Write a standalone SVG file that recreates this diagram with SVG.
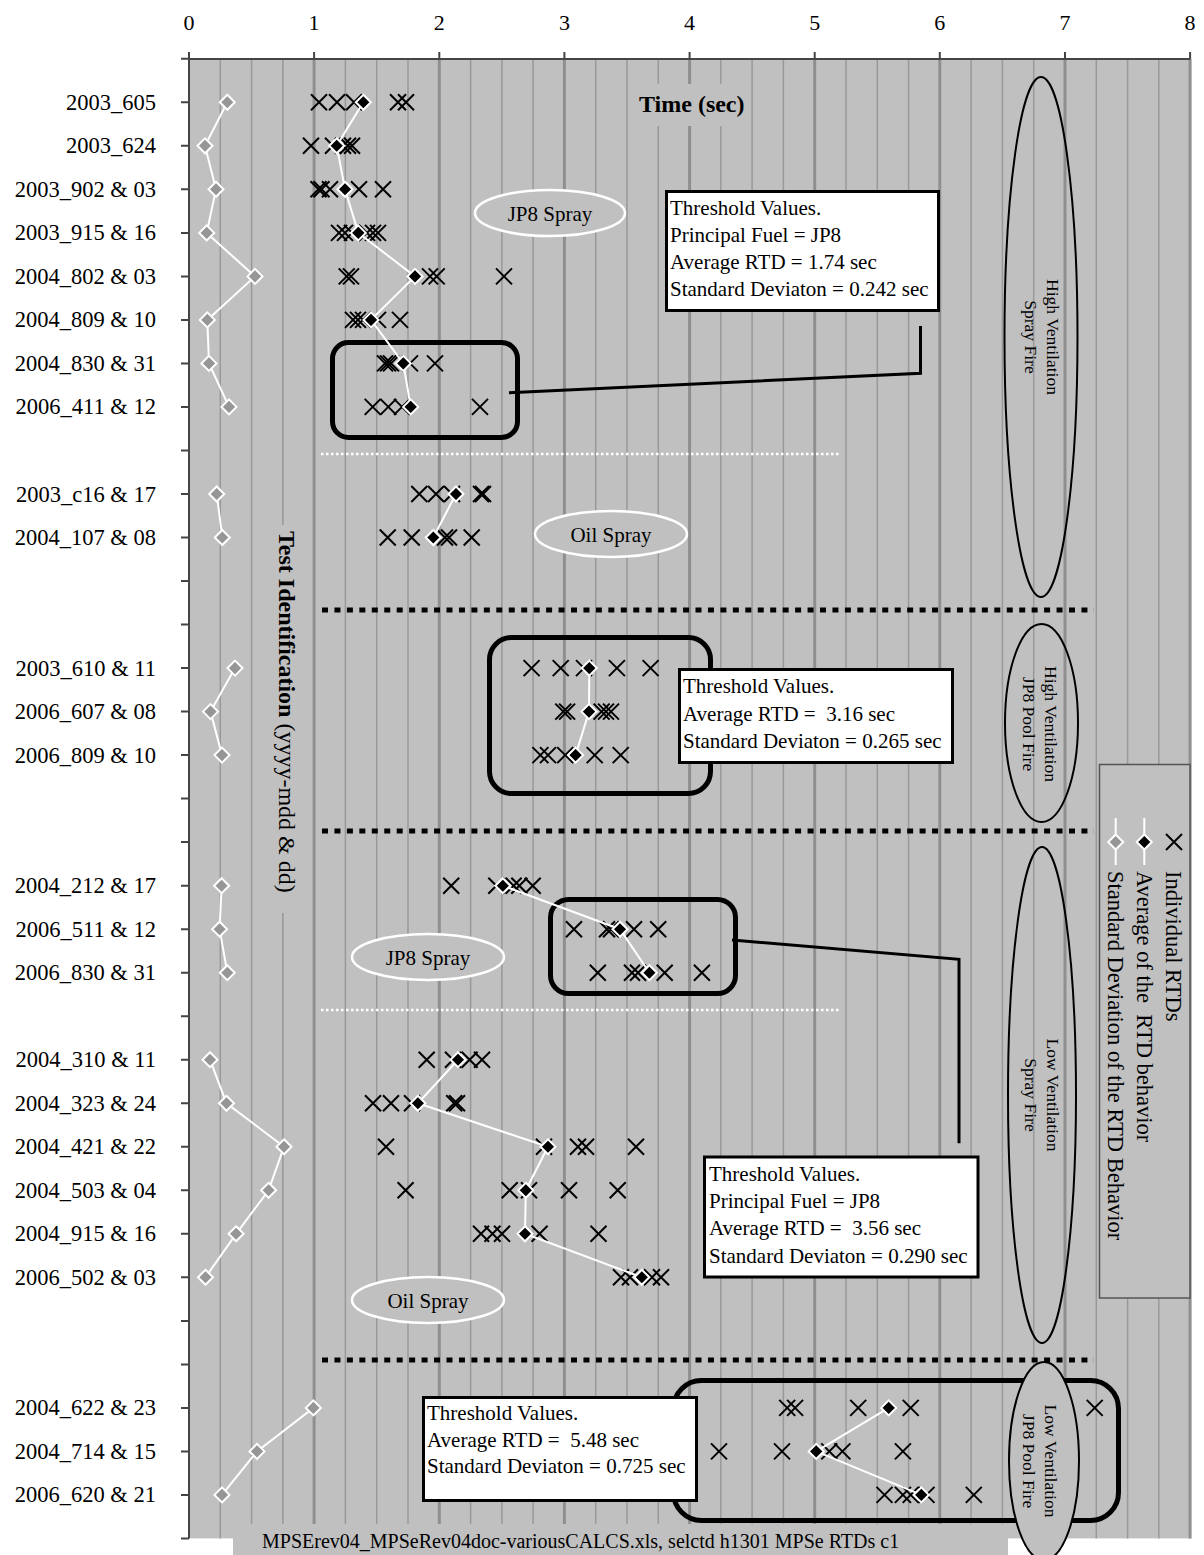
<svg xmlns="http://www.w3.org/2000/svg" width="1204" height="1555" viewBox="0 0 1204 1555">
<style>
text{font-family:"Liberation Serif","Times New Roman",serif;fill:#000}
.ylab{font-size:22.5px;text-anchor:end}
.xlab{font-size:22px;text-anchor:middle}
.thr{font-size:21px;white-space:pre}
.tag{font-size:21px;text-anchor:middle}
.cat{font-size:17.5px;text-anchor:middle}
.leg{font-size:22.5px;white-space:pre}
.grid{stroke:#999;stroke-width:1.5;fill:none}
.gridi{stroke:#8f8f8f;stroke-width:3;fill:none}
.axis{stroke:#444;stroke-width:2;fill:none}
.callout{fill:none;stroke:#000;stroke-width:5}
.tbox{fill:#fff;stroke:#000;stroke-width:3}
.conn{fill:none;stroke:#000;stroke-width:3}
.wdot{stroke:#fff;stroke-width:2.5;stroke-dasharray:2.5 2.5;fill:none}
.bdot{stroke:#000;stroke-width:5;stroke-dasharray:6 6.45;fill:none}
.tagell{fill:#c0c0c0;stroke:#fff;stroke-width:2.5}
.catell{fill:none;stroke:#000;stroke-width:2}
.wline{fill:none;stroke:#fff;stroke-width:2}
</style>
<defs>
<path id="xm" d="M-8,-8L8,8M-8,8L8,-8" stroke="#000" stroke-width="2" fill="none"/>
<path id="da" d="M0,-7.5L7.5,0L0,7.5L-7.5,0Z" fill="#000" stroke="#fff" stroke-width="2"/>
<path id="ds" d="M0,-7.5L7.5,0L0,7.5L-7.5,0Z" fill="#969696" stroke="#fff" stroke-width="2"/>
</defs>
<rect x="0" y="0" width="1204" height="1555" fill="#fff"/>
<g id="plot-area">
<rect x="189" y="59" width="1002" height="1479.4" fill="#c0c0c0"/>
<path class="grid" d="M220.3 59V1538.4M251.6 59V1538.4M282.9 59V1538.4M345.4 59V1538.4M376.7 59V1538.4M408 59V1538.4M470.6 59V1538.4M501.9 59V1538.4M533.1 59V1538.4M595.7 59V1538.4M627 59V1538.4M658.3 59V1538.4M720.8 59V1538.4M752.1 59V1538.4M783.4 59V1538.4M846 59V1538.4M877.3 59V1538.4M908.6 59V1538.4M971.1 59V1538.4M1002.4 59V1538.4M1033.7 59V1538.4M1096.3 59V1538.4M1127.6 59V1538.4M1158.8 59V1538.4"/>
<path class="gridi" d="M314.1 59V1538.4M439.3 59V1538.4M564.4 59V1538.4M689.6 59V1538.4M814.7 59V1538.4M939.8 59V1538.4M1065 59V1538.4M1190.1 59V1538.4"/>
</g>
<g id="axis-titles">
<rect x="636" y="84" width="112" height="42" fill="#c0c0c0"/>
<text x="639" y="112" style="font-size:24px;font-weight:bold">Time (sec)</text>
<rect x="272" y="525" width="30" height="388" fill="#c0c0c0"/>
<text transform="translate(278.5,531) rotate(90)" style="font-size:24px"><tspan font-weight="bold">Test Identification</tspan> (yyyy-mdd &amp; dd)</text>
</g>
<g id="axes">
<path class="axis" d="M189 59V1538.4M189 59H1190.1"/>
<path class="axis" d="M189 52V59M314.1 52V59M439.3 52V59M564.4 52V59M689.6 52V59M814.7 52V59M939.8 52V59M1065 52V59M1190.1 52V59"/>
<path class="axis" d="M181 58.8H189M181 102.3H189M181 145.8H189M181 189.3H189M181 232.9H189M181 276.4H189M181 319.9H189M181 363.4H189M181 406.9H189M181 450.5H189M181 494H189M181 537.5H189M181 581H189M181 624.5H189M181 668.1H189M181 711.6H189M181 755.1H189M181 798.6H189M181 842.1H189M181 885.7H189M181 929.2H189M181 972.7H189M181 1016.2H189M181 1059.7H189M181 1103.3H189M181 1146.8H189M181 1190.3H189M181 1233.8H189M181 1277.3H189M181 1320.9H189M181 1364.4H189M181 1407.9H189M181 1451.4H189M181 1494.9H189M181 1538.4H189"/>
<text class="xlab" x="189" y="29.5">0</text>
<text class="xlab" x="314.1" y="29.5">1</text>
<text class="xlab" x="439.3" y="29.5">2</text>
<text class="xlab" x="564.4" y="29.5">3</text>
<text class="xlab" x="689.6" y="29.5">4</text>
<text class="xlab" x="814.7" y="29.5">5</text>
<text class="xlab" x="939.8" y="29.5">6</text>
<text class="xlab" x="1065" y="29.5">7</text>
<text class="xlab" x="1190.1" y="29.5">8</text>
<text class="ylab" x="156" y="109.8">2003_605</text>
<text class="ylab" x="156" y="153.3">2003_624</text>
<text class="ylab" x="156" y="196.8">2003_902 &amp; 03</text>
<text class="ylab" x="156" y="240.4">2003_915 &amp; 16</text>
<text class="ylab" x="156" y="283.9">2004_802 &amp; 03</text>
<text class="ylab" x="156" y="327.4">2004_809 &amp; 10</text>
<text class="ylab" x="156" y="370.9">2004_830 &amp; 31</text>
<text class="ylab" x="156" y="414.4">2006_411 &amp; 12</text>
<text class="ylab" x="156" y="501.5">2003_c16 &amp; 17</text>
<text class="ylab" x="156" y="545">2004_107 &amp; 08</text>
<text class="ylab" x="156" y="675.6">2003_610 &amp; 11</text>
<text class="ylab" x="156" y="719.1">2006_607 &amp; 08</text>
<text class="ylab" x="156" y="762.6">2006_809 &amp; 10</text>
<text class="ylab" x="156" y="893.2">2004_212 &amp; 17</text>
<text class="ylab" x="156" y="936.7">2006_511 &amp; 12</text>
<text class="ylab" x="156" y="980.2">2006_830 &amp; 31</text>
<text class="ylab" x="156" y="1067.2">2004_310 &amp; 11</text>
<text class="ylab" x="156" y="1110.8">2004_323 &amp; 24</text>
<text class="ylab" x="156" y="1154.3">2004_421 &amp; 22</text>
<text class="ylab" x="156" y="1197.8">2004_503 &amp; 04</text>
<text class="ylab" x="156" y="1241.3">2004_915 &amp; 16</text>
<text class="ylab" x="156" y="1284.8">2006_502 &amp; 03</text>
<text class="ylab" x="156" y="1415.4">2004_622 &amp; 23</text>
<text class="ylab" x="156" y="1458.9">2004_714 &amp; 15</text>
<text class="ylab" x="156" y="1502.4">2006_620 &amp; 21</text>
</g>
<g id="separators">
<path class="wdot" d="M321 454H841M321 1010H841"/>
<path class="bdot" d="M322 610H1094M322 831H1094M322 1360H1094"/>
</g>
<g id="tag-jp8-spray-1"><ellipse class="tagell" cx="550" cy="213" rx="75" ry="23"/><text class="tag" x="550" y="221">JP8 Spray</text></g>
<g id="tag-oil-spray-1"><ellipse class="tagell" cx="611" cy="534" rx="76" ry="23"/><text class="tag" x="611" y="542">Oil Spray</text></g>
<g id="tag-jp8-spray-2"><ellipse class="tagell" cx="428" cy="957" rx="76" ry="23"/><text class="tag" x="428" y="965">JP8 Spray</text></g>
<g id="tag-oil-spray-2"><ellipse class="tagell" cx="428" cy="1300" rx="76" ry="23"/><text class="tag" x="428" y="1308">Oil Spray</text></g>
<g id="callout-a"><rect class="callout" x="332.5" y="342.5" width="185" height="95" rx="16"/></g>
<g id="callout-b"><rect class="callout" x="489.5" y="637.5" width="221" height="156" rx="22"/></g>
<g id="callout-c"><rect class="callout" x="550.5" y="899.5" width="185" height="94" rx="18"/></g>
<g id="callout-d"><rect class="callout" x="673.5" y="1380.5" width="445" height="140" rx="28"/></g>
<g id="connectors">
<path class="conn" d="M509 392.7L920.5 373.3V326"/>
<path class="conn" d="M732 940L959 959.3V1143.3"/>
</g>
<g id="series-stddev">
<path class="wline" d="M227.3 102.3L205 145.8L216 189.3L206.7 232.9L255 276.4L207.3 319.9L209 363.4L229 406.9M216.7 494L222.3 537.5M235 668.1L210.5 711.6L222 755.1M221.6 885.7L219.6 929.2L227.3 972.7M210 1059.7L226.5 1103.3L284 1146.8L268.6 1190.3L236.1 1233.8L205.5 1277.3M313.4 1407.9L257 1451.4L222 1494.9"/>
<use href="#ds" x="227.3" y="102.3"/><use href="#ds" x="205" y="145.8"/><use href="#ds" x="216" y="189.3"/><use href="#ds" x="206.7" y="232.9"/><use href="#ds" x="255" y="276.4"/><use href="#ds" x="207.3" y="319.9"/><use href="#ds" x="209" y="363.4"/><use href="#ds" x="229" y="406.9"/>
<use href="#ds" x="216.7" y="494"/><use href="#ds" x="222.3" y="537.5"/>
<use href="#ds" x="235" y="668.1"/><use href="#ds" x="210.5" y="711.6"/><use href="#ds" x="222" y="755.1"/>
<use href="#ds" x="221.6" y="885.7"/><use href="#ds" x="219.6" y="929.2"/><use href="#ds" x="227.3" y="972.7"/>
<use href="#ds" x="210" y="1059.7"/><use href="#ds" x="226.5" y="1103.3"/><use href="#ds" x="284" y="1146.8"/><use href="#ds" x="268.6" y="1190.3"/><use href="#ds" x="236.1" y="1233.8"/><use href="#ds" x="205.5" y="1277.3"/>
<use href="#ds" x="313.4" y="1407.9"/><use href="#ds" x="257" y="1451.4"/><use href="#ds" x="222" y="1494.9"/>
</g>
<g id="series-individual">
<use href="#xm" x="319" y="102.3"/><use href="#xm" x="337" y="102.3"/><use href="#xm" x="354" y="102.3"/><use href="#xm" x="398" y="102.3"/><use href="#xm" x="406" y="102.3"/>
<use href="#xm" x="311" y="145.8"/><use href="#xm" x="333" y="145.8"/><use href="#xm" x="343" y="145.8"/><use href="#xm" x="348" y="145.8"/><use href="#xm" x="352" y="145.8"/>
<use href="#xm" x="318.5" y="189.3"/><use href="#xm" x="321.5" y="189.3"/><use href="#xm" x="330" y="189.3"/><use href="#xm" x="359" y="189.3"/><use href="#xm" x="383" y="189.3"/>
<use href="#xm" x="339" y="232.9"/><use href="#xm" x="345" y="232.9"/><use href="#xm" x="352" y="232.9"/><use href="#xm" x="367" y="232.9"/><use href="#xm" x="373" y="232.9"/><use href="#xm" x="378" y="232.9"/>
<use href="#xm" x="346.7" y="276.4"/><use href="#xm" x="351" y="276.4"/><use href="#xm" x="430" y="276.4"/><use href="#xm" x="436.7" y="276.4"/><use href="#xm" x="504" y="276.4"/>
<use href="#xm" x="353" y="319.9"/><use href="#xm" x="358" y="319.9"/><use href="#xm" x="363" y="319.9"/><use href="#xm" x="378" y="319.9"/><use href="#xm" x="400" y="319.9"/>
<use href="#xm" x="385" y="363.4"/><use href="#xm" x="388" y="363.4"/><use href="#xm" x="391" y="363.4"/><use href="#xm" x="410" y="363.4"/><use href="#xm" x="435" y="363.4"/>
<use href="#xm" x="372.7" y="406.9"/><use href="#xm" x="388.3" y="406.9"/><use href="#xm" x="402" y="406.9"/><use href="#xm" x="480" y="406.9"/>
<use href="#xm" x="419.3" y="494"/><use href="#xm" x="436" y="494"/><use href="#xm" x="452" y="494"/><use href="#xm" x="481" y="494"/><use href="#xm" x="483" y="494"/>
<use href="#xm" x="387.7" y="537.5"/><use href="#xm" x="411.7" y="537.5"/><use href="#xm" x="445" y="537.5"/><use href="#xm" x="449" y="537.5"/><use href="#xm" x="471.7" y="537.5"/>
<use href="#xm" x="531.6" y="668.1"/><use href="#xm" x="560.7" y="668.1"/><use href="#xm" x="584" y="668.1"/><use href="#xm" x="616.9" y="668.1"/><use href="#xm" x="650.6" y="668.1"/>
<use href="#xm" x="563.3" y="711.6"/><use href="#xm" x="567.1" y="711.6"/><use href="#xm" x="601.6" y="711.6"/><use href="#xm" x="606" y="711.6"/><use href="#xm" x="611" y="711.6"/>
<use href="#xm" x="540.4" y="755.1"/><use href="#xm" x="548" y="755.1"/><use href="#xm" x="565.2" y="755.1"/><use href="#xm" x="594.7" y="755.1"/><use href="#xm" x="620.7" y="755.1"/>
<use href="#xm" x="451.2" y="885.7"/><use href="#xm" x="496.3" y="885.7"/><use href="#xm" x="513.6" y="885.7"/><use href="#xm" x="519.3" y="885.7"/><use href="#xm" x="532.7" y="885.7"/>
<use href="#xm" x="574" y="929.2"/><use href="#xm" x="607" y="929.2"/><use href="#xm" x="611" y="929.2"/><use href="#xm" x="634" y="929.2"/><use href="#xm" x="658.2" y="929.2"/>
<use href="#xm" x="597.8" y="972.7"/><use href="#xm" x="632" y="972.7"/><use href="#xm" x="638" y="972.7"/><use href="#xm" x="664.7" y="972.7"/><use href="#xm" x="701.9" y="972.7"/>
<use href="#xm" x="426.7" y="1059.7"/><use href="#xm" x="453" y="1059.7"/><use href="#xm" x="469.6" y="1059.7"/><use href="#xm" x="482" y="1059.7"/>
<use href="#xm" x="373" y="1103.3"/><use href="#xm" x="391" y="1103.3"/><use href="#xm" x="412" y="1103.3"/><use href="#xm" x="454.2" y="1103.3"/><use href="#xm" x="457" y="1103.3"/>
<use href="#xm" x="386" y="1146.8"/><use href="#xm" x="544" y="1146.8"/><use href="#xm" x="578" y="1146.8"/><use href="#xm" x="586" y="1146.8"/><use href="#xm" x="636" y="1146.8"/>
<use href="#xm" x="405.6" y="1190.3"/><use href="#xm" x="509.7" y="1190.3"/><use href="#xm" x="529" y="1190.3"/><use href="#xm" x="569" y="1190.3"/><use href="#xm" x="617.7" y="1190.3"/>
<use href="#xm" x="481" y="1233.8"/><use href="#xm" x="492.5" y="1233.8"/><use href="#xm" x="502" y="1233.8"/><use href="#xm" x="539.6" y="1233.8"/><use href="#xm" x="598.5" y="1233.8"/>
<use href="#xm" x="621" y="1277.3"/><use href="#xm" x="630" y="1277.3"/><use href="#xm" x="652" y="1277.3"/><use href="#xm" x="661" y="1277.3"/>
<use href="#xm" x="787.2" y="1407.9"/><use href="#xm" x="795.1" y="1407.9"/><use href="#xm" x="858.2" y="1407.9"/><use href="#xm" x="910.7" y="1407.9"/><use href="#xm" x="1094.7" y="1407.9"/>
<use href="#xm" x="719" y="1451.4"/><use href="#xm" x="782" y="1451.4"/><use href="#xm" x="829.3" y="1451.4"/><use href="#xm" x="842.4" y="1451.4"/><use href="#xm" x="902.9" y="1451.4"/>
<use href="#xm" x="884.5" y="1494.9"/><use href="#xm" x="902.9" y="1494.9"/><use href="#xm" x="910.7" y="1494.9"/><use href="#xm" x="926.5" y="1494.9"/><use href="#xm" x="973.8" y="1494.9"/>
</g>
<g id="series-average">
<path class="wline" d="M363.3 102.3L336.7 145.8L345 189.3L358.3 232.9L415 276.4L371 319.9L403.3 363.4L410.7 406.9M456 494L433.3 537.5M589.3 668.1L589 711.6L575.6 755.1M502.8 885.7L620 929.2L649.4 972.7M458 1059.7L417.9 1103.3L548 1146.8L525.8 1190.3L525 1233.8L641.8 1277.3M888.7 1407.9L816.2 1451.4L921.3 1494.9"/>
<use href="#da" x="363.3" y="102.3"/><use href="#da" x="336.7" y="145.8"/><use href="#da" x="345" y="189.3"/><use href="#da" x="358.3" y="232.9"/><use href="#da" x="415" y="276.4"/><use href="#da" x="371" y="319.9"/><use href="#da" x="403.3" y="363.4"/><use href="#da" x="410.7" y="406.9"/>
<use href="#da" x="456" y="494"/><use href="#da" x="433.3" y="537.5"/>
<use href="#da" x="589.3" y="668.1"/><use href="#da" x="589" y="711.6"/><use href="#da" x="575.6" y="755.1"/>
<use href="#da" x="502.8" y="885.7"/><use href="#da" x="620" y="929.2"/><use href="#da" x="649.4" y="972.7"/>
<use href="#da" x="458" y="1059.7"/><use href="#da" x="417.9" y="1103.3"/><use href="#da" x="548" y="1146.8"/><use href="#da" x="525.8" y="1190.3"/><use href="#da" x="525" y="1233.8"/><use href="#da" x="641.8" y="1277.3"/>
<use href="#da" x="888.7" y="1407.9"/><use href="#da" x="816.2" y="1451.4"/><use href="#da" x="921.3" y="1494.9"/>
</g>
<g id="threshold-1"><rect class="tbox" x="666.5" y="191.5" width="272" height="119"/>
<text class="thr" x="670" y="215">Threshold Values.</text><text class="thr" x="670" y="242">Principal Fuel = JP8</text><text class="thr" x="670" y="269">Average RTD = 1.74 sec</text><text class="thr" x="670" y="296">Standard Deviaton = 0.242 sec</text></g>
<g id="threshold-2"><rect class="tbox" x="679.5" y="669.5" width="273" height="93"/>
<text class="thr" x="683" y="693">Threshold Values.</text><text class="thr" x="683" y="720.5">Average RTD =  3.16 sec</text><text class="thr" x="683" y="747.5">Standard Deviaton = 0.265 sec</text></g>
<g id="threshold-3"><rect class="tbox" x="704.5" y="1157" width="273.5" height="120"/>
<text class="thr" x="709" y="1181">Threshold Values.</text><text class="thr" x="709" y="1208">Principal Fuel = JP8</text><text class="thr" x="709" y="1235">Average RTD =  3.56 sec</text><text class="thr" x="709" y="1262.5">Standard Deviaton = 0.290 sec</text></g>
<g id="threshold-4"><rect class="tbox" x="423.5" y="1397.5" width="273" height="103"/>
<text class="thr" x="427" y="1420">Threshold Values.</text><text class="thr" x="427" y="1446.7">Average RTD =  5.48 sec</text><text class="thr" x="427" y="1473.3">Standard Deviaton = 0.725 sec</text></g>
<g id="cat-high-spray"><ellipse class="catell" cx="1041" cy="337" rx="36.5" ry="260"/>
<text class="cat" transform="translate(1047,337) rotate(90)">High Ventilation</text><text class="cat" transform="translate(1025,337) rotate(90)">Spray Fire</text></g>
<g id="cat-high-pool"><ellipse class="catell" cx="1041.5" cy="723" rx="36.5" ry="99"/>
<text class="cat" transform="translate(1045,724) rotate(90)">High Ventilation</text><text class="cat" transform="translate(1023,724) rotate(90)">JP8 Pool Fire</text></g>
<g id="cat-low-spray"><ellipse class="catell" cx="1042" cy="1095" rx="34" ry="248"/>
<text class="cat" transform="translate(1047,1095) rotate(90)">Low Ventilation</text><text class="cat" transform="translate(1025,1095) rotate(90)">Spray Fire</text></g>
<g id="cat-low-pool"><ellipse class="catell" cx="1044" cy="1461" rx="35" ry="99" style="fill:#c0c0c0"/>
<text class="cat" transform="translate(1045,1461) rotate(90)">Low Ventilation</text><text class="cat" transform="translate(1023,1461) rotate(90)">JP8 Pool Fire</text></g>
<g id="legend">
<rect x="1099.5" y="764.5" width="90.5" height="533.5" fill="#c0c0c0" stroke="#555" stroke-width="1.5"/>
<path class="wline" d="M1144.3 818V865M1115.7 818V865"/>
<use href="#xm" x="1174" y="842"/>
<use href="#da" x="1144.3" y="842"/>
<use href="#ds" x="1115.7" y="842"/>
<text class="leg" transform="translate(1166,871) rotate(90)">Individual RTDs</text>
<text class="leg" transform="translate(1137,871) rotate(90)">Average of the  RTD behavior</text>
<text class="leg" transform="translate(1108,871) rotate(90)">Standard Deviation of the RTD Behavior</text>
</g>
<g id="footnote">
<rect x="233" y="1524" width="775" height="31" fill="#c0c0c0"/>
<text x="262" y="1548" style="font-size:20px">MPSErev04_MPSeRev04doc-variousCALCS.xls, selctd h1301 MPSe RTDs c1</text>
</g>
</svg>
